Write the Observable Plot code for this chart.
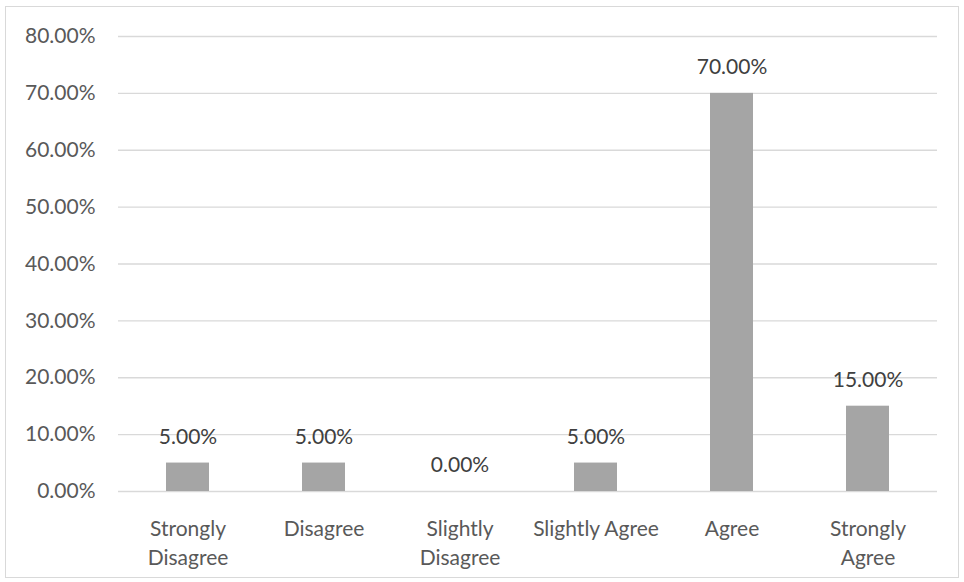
<!DOCTYPE html>
<html>
<head>
<meta charset="utf-8">
<script src="https://cdn.jsdelivr.net/npm/d3@7"></script>
<script src="https://cdn.jsdelivr.net/npm/@observablehq/plot@0.6"></script>
<style>
  body { margin: 0; background: #fff; }
  #wrap { position: relative; width: 964px; height: 582px; }
  #frame { position: absolute; left: 5px; top: 6px; width: 952px; height: 570px; border: 1px solid #d9d9d9; pointer-events: none; }
</style>
</head>
<body>
<div id="wrap"><div id="frame"></div></div>
<script>
const categories = ["Strongly Disagree", "Disagree", "Slightly Disagree", "Slightly Agree", "Agree", "Strongly Agree"];
const values = [0.05, 0.05, 0.00, 0.05, 0.70, 0.15];
const tickLabels = ["Strongly\nDisagree", "Disagree", "Slightly\nDisagree", "Slightly Agree", "Agree", "Strongly\nAgree"];
const yTicks = [0, 0.1, 0.2, 0.3, 0.4, 0.5, 0.6, 0.7, 0.8];

const data = categories.map((c, i) => ({category: c, value: values[i]}));
const pct = d => (d * 100).toFixed(2) + "%";

const chart = Plot.plot({
  width: 964,
  height: 582,
  marginLeft: 118,
  marginRight: 27,
  marginTop: 36,
  marginBottom: 91,
  style: {fontFamily: "Lato, sans-serif", fontSize: "21px", color: "#595959", background: "transparent"},
  x: {domain: categories, paddingInner: 0.685, paddingOuter: 0.3425, label: null},
  y: {domain: [0, 0.8], label: null},
  marks: [
    Plot.ruleY(yTicks, {stroke: "#d9d9d9", strokeWidth: 1.3}),
    Plot.barY(data, {x: "category", y: "value", fill: "#a5a5a5"}),
    Plot.text(data, {x: "category", y: "value", text: d => pct(d.value), dy: -26, lineAnchor: "middle", fill: "#404040", fontSize: 21}),
    Plot.axisY({ticks: yTicks, tickFormat: pct, tickSize: 0, tickPadding: 23, fontSize: 21, fill: "#595959", label: null}),
    Plot.axisX({tickSize: 0, tickPadding: 24, tickFormat: (d) => tickLabels[categories.indexOf(d)], lineHeight: 1.38, fontSize: 21, fill: "#595959", label: null})
  ]
});
document.getElementById("wrap").prepend(chart);
chart.style.position = "absolute";
chart.style.left = "0";
chart.style.top = "0";
</script>
</body>
</html>
